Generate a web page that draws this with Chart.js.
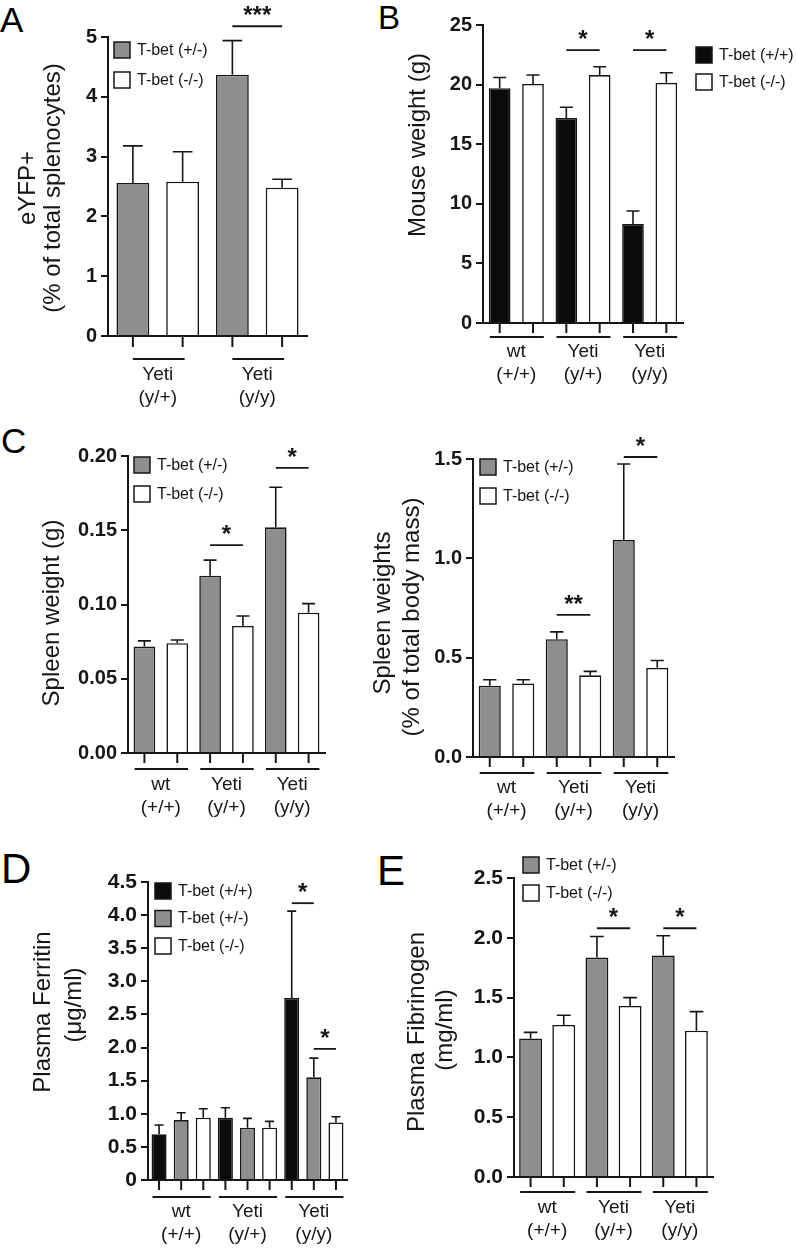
<!DOCTYPE html>
<html lang="en">
<head>
  <meta charset="UTF-8">
  <title>T-bet / Yeti panels</title>
  <script src="https://cdn.jsdelivr.net/npm/chart.js"></script>
  <style>
    html, body { margin: 0; padding: 0; background: #fff; }
    body { width: 796px; height: 1248px; position: relative; overflow: hidden;
           font-family: 'Liberation Sans', Arial, Helvetica, sans-serif; }
    canvas { position: absolute; }
    .letter { position: absolute; color: #000; line-height: 1; }
  </style>
</head>
<body>
  <div class="letter" style="left:0px;top:2px;font-size:35px">A</div>
  <div class="letter" style="left:378px;top:1px;font-size:33px">B</div>
  <div class="letter" style="left:1px;top:423px;font-size:35px">C</div>
  <div class="letter" style="left:1px;top:848px;font-size:42px">D</div>
  <div class="letter" style="left:377px;top:850px;font-size:42px">E</div>

  <canvas id="chartA"></canvas>
  <canvas id="chartB"></canvas>
  <canvas id="chartC1"></canvas>
  <canvas id="chartC2"></canvas>
  <canvas id="chartD"></canvas>
  <canvas id="chartE"></canvas>

<script>
// ---- data (means and SEM) ----
const labelWt = 'T-bet (+/+)';
const labelHet = 'T-bet (+/-)';
const labelKo = 'T-bet (-/-)';

const catsA = [['Yeti', '(y/+)'], ['Yeti', '(y/y)']];
const cats3 = [['wt', '(+/+)'], ['Yeti', '(y/+)'], ['Yeti', '(y/y)']];

// A: eYFP+ (% of total splenocytes)
const hetA = [2.56, 4.37];
const hetSemA = [0.62, 0.57];
const koA = [2.58, 2.48];
const koSemA = [0.50, 0.14];
const yTicksA = ['0', '1', '2', '3', '4', '5'];
const sigA = [[1, 0, 1, 5.18, '***']];

// B: mouse weight (g)
const wtB = [19.7, 17.2, 8.3];
const wtSemB = [0.9, 0.9, 1.1];
const koB = [20.05, 20.8, 20.15];
const koSemB = [0.75, 0.7, 0.85];
const yTicksB = ['0', '5', '10', '15', '20', '25'];
const sigB = [[1, 0, 1, 22.9, '*'], [2, 0, 1, 22.9, '*']];

// C left: spleen weight (g)
const hetC = [0.0717, 0.1194, 0.152];
const hetSemC = [0.0038, 0.0105, 0.027];
const koC = [0.0739, 0.0856, 0.0945];
const koSemC = [0.0022, 0.0067, 0.0061];
const yTicksC = ['0.00', '0.05', '0.10', '0.15', '0.20'];
const sigC = [[1, 0, 1, 0.140, '*'], [2, 0, 1, 0.192, '*']];

// C right: spleen weight (% of body mass)
const hetR = [0.359, 0.593, 1.093];
const hetSemR = [0.030, 0.037, 0.382];
const koR = [0.370, 0.411, 0.449];
const koSemR = [0.019, 0.020, 0.037];
const yTicksR = ['0.0', '0.5', '1.0', '1.5'];
const sigR = [[1, 0, 1, 0.715, '**'], [2, 0, 1, 1.51, '*']];

// D: plasma ferritin (ug/ml)
const wtD = [0.69, 0.94, 2.75];
const wtSemD = [0.14, 0.15, 1.31];
const hetD = [0.905, 0.79, 1.55];
const hetSemD = [0.11, 0.14, 0.29];
const koD = [0.94, 0.79, 0.87];
const koSemD = [0.136, 0.095, 0.085];
const yTicksD = ['0', '0.5', '1.0', '1.5', '2.0', '2.5', '3.0', '3.5', '4.0', '4.5'];
const sigD = [[2, 0, 1, 4.18, '*'], [2, 1, 2, 1.98, '*']];

// E: plasma fibrinogen (mg/ml)
const hetE = [1.159, 1.835, 1.852];
const hetSemE = [0.05, 0.176, 0.165];
const koE = [1.271, 1.430, 1.223];
const koSemE = [0.081, 0.07, 0.16];
const yTicksE = ['0.0', '0.5', '1.0', '1.5', '2.0', '2.5'];
const sigE = [[1, 0, 1, 2.08, '*'], [2, 0, 1, 2.08, '*']];

// ---- styling / layout ----
const FONT = "'Liberation Sans', Arial, Helvetica, sans-serif";
const INK = '#161616';
const BLACK = '#0c0c0c';
const GREY = '#8e8e8e';
const WHITE = '#ffffff';

Chart.defaults.font.family = FONT;
Chart.defaults.color = INK;

// box = canvas [left, top, w, h]; area = plot [left, top, right, bottom] (page px)
const layouts = {
  chartA: { box: [0, 0, 400, 420], area: [108, 37, 307, 336], barPct: 0.66, tickFont: 20,
            labPad: 27.6, tick: 11, groupLine: 23, groupMode: 'center',
            legend: [114, 42, 30], titles: [['eYFP+', 28, 188], ['(% of total splenocytes)', 53, 188]] },
  chartB: { box: [400, 0, 396, 420], area: [483, 25, 683, 323], barPct: 0.65, tickFont: 20,
            labPad: 17.6, tick: 10, groupLine: 14, groupMode: 'edge',
            legend: [696, 47, 27], titles: [['Mouse weight (g)', 418, 145]] },
  chartC1: { box: [0, 420, 360, 420], area: [128, 456, 325, 753], barPct: 0.66, tickFont: 20,
            labPad: 20.6, tick: 10, groupLine: 16, groupMode: 'edge',
            legend: [134, 457, 29], titles: [['Spleen weight (g)', 52, 613]] },
  chartC2: { box: [360, 420, 436, 420], area: [473, 459, 674, 757], barPct: 0.66, tickFont: 20,
            labPad: 19.6, tick: 10, groupLine: 16, groupMode: 'edge',
            legend: [480, 459, 29], titles: [['Spleen weights', 383, 613], ['(% of total body mass)', 412, 617]] },
  chartD: { box: [0, 840, 400, 408], area: [148, 882, 347, 1180], barPct: 0.68, tickFont: 21,
            labPad: 20.6, tick: 10, groupLine: 17, groupMode: 'edge',
            legend: [155, 883, 27.5], titles: [['Plasma Ferritin', 43, 1012], ['(\u03bcg/ml)', 74, 1005]] },
  chartE: { box: [400, 840, 396, 408], area: [514, 878, 713, 1177], barPct: 0.69, tickFont: 21,
            labPad: 19.6, tick: 10, groupLine: 15, groupMode: 'edge',
            legend: [523, 857, 28], titles: [['Plasma Fibrinogen', 417, 1032], ['(mg/ml)', 445, 1030]] }
};

const sigs = {};

const extras = {
  id: 'extras',
  afterDraw(chart) {
    const L = layouts[chart.canvas.id];
    const { ctx, chartArea: area, scales: { x, y } } = chart;
    const ox = L.box[0], oy = L.box[1];
    const sets = chart.data.datasets;
    const metas = sets.map((d, i) => chart.getDatasetMeta(i));
    ctx.save();
    ctx.strokeStyle = INK;
    ctx.fillStyle = INK;

    // error bars (upper only)
    ctx.lineWidth = 1.6;
    sets.forEach((ds, di) => {
      metas[di].data.forEach((bar, i) => {
        const top = y.getPixelForValue(ds.data[i] + ds.sem[i]);
        const half = bar.width * 0.3;
        ctx.beginPath();
        ctx.moveTo(bar.x, bar.y);
        ctx.lineTo(bar.x, top);
        ctx.moveTo(bar.x - half, top);
        ctx.lineTo(bar.x + half, top);
        ctx.stroke();
      });
    });

    // tick under every bar + group underline
    ctx.lineWidth = 2;
    metas.forEach(m => m.data.forEach(bar => {
      ctx.beginPath();
      ctx.moveTo(bar.x, area.bottom);
      ctx.lineTo(bar.x, area.bottom + L.tick);
      ctx.stroke();
    }));
    x.getLabels().forEach((lab, gi) => {
      const first = metas[0].data[gi];
      const last = metas[metas.length - 1].data[gi];
      let a, b;
      if (L.groupMode === 'center') {
        a = first.x; b = last.x + 2;
      } else {
        a = first.x - first.width / 2 + 1; b = last.x + last.width / 2;
      }
      const gy = area.bottom + L.groupLine;
      ctx.beginPath();
      ctx.moveTo(a, gy);
      ctx.lineTo(b, gy);
      ctx.stroke();
    });

    // significance bars
    ctx.lineWidth = 1.8;
    ctx.textAlign = 'center';
    ctx.textBaseline = 'alphabetic';
    ctx.font = 'bold 24px ' + FONT;
    (sigs[chart.canvas.id] || []).forEach(([g, da, db, v, txt]) => {
      const xa = metas[da].data[g].x;
      const xb = metas[db].data[g].x;
      const sy = y.getPixelForValue(v);
      ctx.beginPath();
      ctx.moveTo(xa, sy);
      ctx.lineTo(xb, sy);
      ctx.stroke();
      ctx.fillText(txt, (xa + xb) / 2, sy - 3);
    });

    // legend
    const [lx, ly, gap] = L.legend;
    ctx.font = '16px ' + FONT;
    ctx.textAlign = 'left';
    ctx.textBaseline = 'middle';
    ctx.lineWidth = 1.5;
    sets.forEach((ds, i) => {
      const bx = lx - ox, by = ly - oy + i * gap;
      ctx.fillStyle = ds.backgroundColor;
      ctx.fillRect(bx, by, 16, 16);
      ctx.strokeRect(bx, by, 16, 16);
      ctx.fillStyle = INK;
      ctx.fillText(ds.label, bx + 23, by + 8.5);
    });

    // rotated y titles
    ctx.font = '24px ' + FONT;
    ctx.textAlign = 'center';
    L.titles.forEach(([txt, tx, ty]) => {
      ctx.save();
      ctx.translate(tx - ox, ty - oy);
      ctx.rotate(-Math.PI / 2);
      ctx.fillText(txt, 0, 0);
      ctx.restore();
    });
    ctx.restore();
  }
};

function series(label, fill, data, sem) {
  return {
    label: label,
    data: data,
    sem: sem,
    backgroundColor: fill,
    borderColor: INK,
    borderWidth: 1.6,
    categoryPercentage: 1.0
  };
}

function makePanel(id, cats, datasets, maxY, step, yTicks, sig) {
  const L = layouts[id];
  const canvas = document.getElementById(id);
  canvas.width = L.box[2];
  canvas.height = L.box[3];
  canvas.style.left = L.box[0] + 'px';
  canvas.style.top = L.box[1] + 'px';
  sigs[id] = sig;
  datasets.forEach(d => { d.barPercentage = L.barPct; });

  return new Chart(canvas.getContext('2d'), {
    type: 'bar',
    data: { labels: cats, datasets: datasets },
    options: {
      responsive: false,
      animation: false,
      devicePixelRatio: 1,
      layout: {
        padding: {
          left: 0,
          top: L.area[1] - L.box[1],
          right: L.box[0] + L.box[2] - L.area[2],
          bottom: 0
        }
      },
      plugins: { legend: { display: false }, tooltip: { enabled: false } },
      scales: {
        x: {
          grid: { display: false, drawTicks: false },
          border: { display: true, color: INK, width: 2 },
          ticks: { color: INK, padding: L.labPad, font: { size: 19, lineHeight: 1.2 } },
          afterFit: s => { s.height = L.box[1] + L.box[3] - L.area[3]; }
        },
        y: {
          min: 0,
          max: maxY,
          grid: { drawOnChartArea: false, drawTicks: true, tickLength: 7, color: INK, lineWidth: 2 },
          border: { display: true, color: INK, width: 2 },
          ticks: {
            stepSize: step,
            padding: 4,
            color: INK,
            font: { size: L.tickFont, weight: 'bold' },
            callback: (v, i) => yTicks[i]
          },
          afterFit: s => { s.width = L.area[0] - L.box[0]; }
        }
      }
    },
    plugins: [extras]
  });
}

makePanel('chartA', catsA, [
  series(labelHet, GREY, hetA, hetSemA),
  series(labelKo, WHITE, koA, koSemA)
], 5, 1, yTicksA, sigA);

makePanel('chartB', cats3, [
  series(labelWt, BLACK, wtB, wtSemB),
  series(labelKo, WHITE, koB, koSemB)
], 25, 5, yTicksB, sigB);

makePanel('chartC1', cats3, [
  series(labelHet, GREY, hetC, hetSemC),
  series(labelKo, WHITE, koC, koSemC)
], 0.2, 0.05, yTicksC, sigC);

makePanel('chartC2', cats3, [
  series(labelHet, GREY, hetR, hetSemR),
  series(labelKo, WHITE, koR, koSemR)
], 1.5, 0.5, yTicksR, sigR);

makePanel('chartD', cats3, [
  series(labelWt, BLACK, wtD, wtSemD),
  series(labelHet, GREY, hetD, hetSemD),
  series(labelKo, WHITE, koD, koSemD)
], 4.5, 0.5, yTicksD, sigD);

makePanel('chartE', cats3, [
  series(labelHet, GREY, hetE, hetSemE),
  series(labelKo, WHITE, koE, koSemE)
], 2.5, 0.5, yTicksE, sigE);
</script>
</body>
</html>
